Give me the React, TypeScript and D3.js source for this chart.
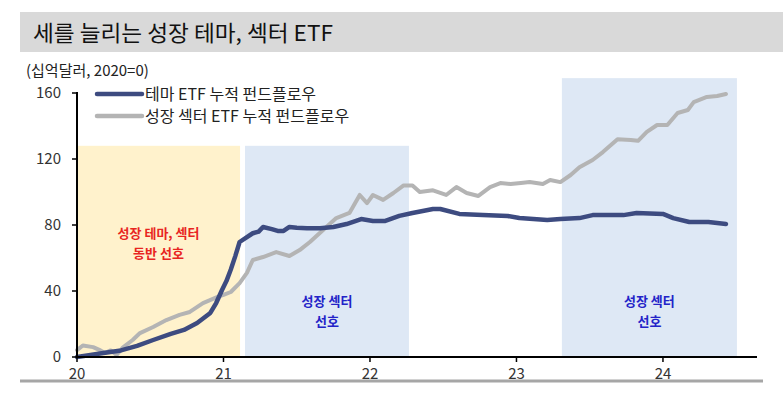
import React from "react";
import * as d3 from "d3";

const yTicks = [0, 40, 80, 120, 160];
const xTicks = [20, 21, 22, 23, 24];

// theme ETF cumulative fund flow (x in year-offset, value in $bn)
const themeT = [20.0, 20.08, 20.18, 20.3, 20.41, 20.52, 20.64, 20.73, 20.82, 20.91, 20.95, 20.99, 21.02, 21.05, 21.08, 21.11, 21.16, 21.2, 21.24, 21.27, 21.33, 21.37, 21.41, 21.45, 21.5, 21.57, 21.66, 21.75, 21.84, 21.94, 22.02, 22.1, 22.2, 22.29, 22.43, 22.48, 22.61, 22.77, 22.94, 23.02, 23.21, 23.3, 23.43, 23.52, 23.73, 23.82, 24.0, 24.07, 24.18, 24.31, 24.43];
const themeV = [0, 1, 2.4, 4, 6.7, 10.3, 14, 16.4, 20.6, 26.7, 32.7, 40.6, 46, 53, 61, 69.7, 72.7, 75, 76, 78.8, 77.5, 76.4, 76.4, 78.8, 78.3, 78, 78, 78.8, 80.6, 83.6, 82.4, 82.4, 85.5, 87.3, 89.7, 89.7, 86.7, 86, 85.5, 84.2, 83, 83.6, 84.2, 86, 86, 87.3, 86.7, 84.2, 81.8, 81.8, 80.6];

// growth sector ETF cumulative fund flow
const sectorT = [20.0, 20.04, 20.11, 20.16, 20.19, 20.23, 20.27, 20.31, 20.38, 20.43, 20.52, 20.61, 20.7, 20.77, 20.86, 20.96, 21.0, 21.05, 21.11, 21.16, 21.2, 21.27, 21.36, 21.45, 21.52, 21.59, 21.68, 21.77, 21.86, 21.93, 21.98, 22.02, 22.09, 22.16, 22.23, 22.29, 22.34, 22.43, 22.52, 22.59, 22.66, 22.74, 22.82, 22.89, 22.96, 23.03, 23.09, 23.18, 23.23, 23.3, 23.37, 23.43, 23.52, 23.59, 23.69, 23.78, 23.83, 23.89, 23.96, 24.03, 24.1, 24.17, 24.21, 24.3, 24.37, 24.43];
const sectorV = [4.2, 7, 6, 4, 2.4, 4, 1.2, 5.5, 10.3, 14.5, 18.2, 22.4, 25.5, 27.3, 32.7, 36.4, 37.6, 39.4, 44.8, 51, 58.8, 60.6, 63.6, 61.2, 64.8, 69.7, 77, 84.2, 87.3, 98.2, 93.3, 98.2, 95.2, 99.4, 104, 104, 100, 101, 98.2, 103, 99.4, 97.6, 103, 105.4, 104.8, 105.4, 106, 104.8, 107.3, 106, 110.3, 115, 119.4, 124.2, 132, 131.5, 131, 136.4, 140.6, 140.6, 147.9, 149.7, 154.5, 157.6, 158.2, 159.4];

const regionStart = [20.0, 21.147, 23.31];
const regionEnd = [21.113, 22.266, 24.505];
const regionTop = [128, 128, 169];
const regionFill = ["#FFF2CC", "#DEE8F5", "#DEE8F5"];
const regionLabel1 = ["성장 테마, 섹터", "성장 섹터", "성장 섹터"];
const regionLabel2 = ["동반 선호", "선호", "선호"];
const regionLabelColor = ["#E8251F", "#2323C8", "#2323C8"];
const regionLabelValue = [72, 31, 31];

const font = "'Noto Sans CJK KR', 'Noto Sans', sans-serif";

export default function App() {
  const W = 783, H = 393;
  const x = d3.scaleLinear().domain([20, 24.642]).range([77, 757]);
  const y = d3.scaleLinear().domain([0, 160]).range([357, 93]);

  const themeData = themeT.map((t, i) => [t, themeV[i]] as [number, number]);
  const sectorData = sectorT.map((t, i) => [t, sectorV[i]] as [number, number]);
  const line = d3.line<[number, number]>().x(d => x(d[0])).y(d => y(d[1])).curve(d3.curveLinear);

  return (
    <svg width={W} height={H} style={{ position: "absolute", left: 0, top: 0 }} fontFamily={font}>
      <rect x={0} y={0} width={W} height={H} fill="#fff" />
      <rect x={20} y={12} width={763} height={40} fill="#D9D9D9" />
      <text x={33} y={41} fontSize={22} fill="#111" textLength={300} lengthAdjust="spacingAndGlyphs">세를 늘리는 성장 테마, 섹터 ETF</text>
      <text x={26} y={76} fontSize={15} fill="#222">(십억달러, 2020=0)</text>

      {regionStart.map((s, i) => (
        <rect key={"r" + i} x={x(s)} y={y(regionTop[i])} width={x(regionEnd[i]) - x(s)} height={y(0) - y(regionTop[i])} fill={regionFill[i]} />
      ))}
      {regionStart.map((s, i) => {
        const cx = (x(s) + x(regionEnd[i])) / 2;
        const cy = y(regionLabelValue[i]);
        return (
          <g key={"l" + i} fontSize={13} fontWeight="bold" fill={regionLabelColor[i]} textAnchor="middle">
            <text x={cx} y={cy}>{regionLabel1[i]}</text>
            <text x={cx} y={cy + 20}>{regionLabel2[i]}</text>
          </g>
        );
      })}

      <path d={line(sectorData) || ""} fill="none" stroke="#B4B4B4" strokeWidth={4} strokeLinejoin="round" strokeLinecap="round" />
      <path d={line(themeData) || ""} fill="none" stroke="#3D4B80" strokeWidth={4.5} strokeLinejoin="round" strokeLinecap="round" />

      {/* y axis */}
      <line x1={77} x2={77} y1={y(160) - 1} y2={y(0)} stroke="#000" strokeWidth={2} />
      {yTicks.map(t => (
        <g key={"yt" + t}>
          <line x1={72} x2={77} y1={y(t)} y2={y(t)} stroke="#000" strokeWidth={1.5} />
          <text x={61} y={y(t) + 5} fontSize={15} textAnchor="end" fill="#333">{t}</text>
        </g>
      ))}
      {/* x axis */}
      <line x1={76} x2={757} y1={y(0)} y2={y(0)} stroke="#000" strokeWidth={2} />
      {xTicks.map(t => (
        <g key={"xt" + t}>
          <line x1={x(t)} x2={x(t)} y1={y(0)} y2={y(0) + 5} stroke="#000" strokeWidth={1.5} />
          <text x={x(t)} y={y(0) + 22} fontSize={15} textAnchor="middle" fill="#333">{t}</text>
        </g>
      ))}

      {/* legend */}
      <line x1={97} x2={142} y1={94} y2={94} stroke="#3D4B80" strokeWidth={4.5} strokeLinecap="round" />
      <text x={145} y={99.5} fontSize={16} fill="#222">테마 ETF 누적 펀드플로우</text>
      <line x1={97} x2={142} y1={116} y2={116} stroke="#B4B4B4" strokeWidth={4.5} strokeLinecap="round" />
      <text x={145} y={121.5} fontSize={16} fill="#222">성장 섹터 ETF 누적 펀드플로우</text>

      <line x1={20} x2={763} y1={381} y2={381} stroke="#A6A6A6" strokeWidth={3} />
    </svg>
  );
}
